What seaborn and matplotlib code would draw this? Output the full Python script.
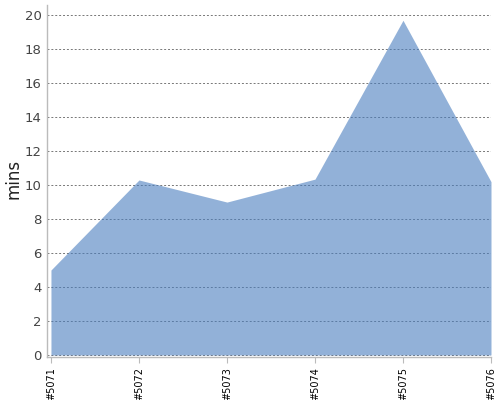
import matplotlib
matplotlib.use("Agg")
import matplotlib.pyplot as plt
import pandas as pd
import seaborn as sns

# build ids and durations
builds = ["#5071", "#5072", "#5073", "#5074", "#5075", "#5076"]
mins = [5.0, 10.3, 9.0, 10.35, 19.7, 10.2]
y_ticks = [0, 2, 4, 6, 8, 10, 12, 14, 16, 18, 20]

df = pd.DataFrame({"build": builds, "mins": mins})
df["pos"] = range(len(df))

sns.set_style("white")
plt.rcParams["font.family"] = ["DejaVu Sans"]

fig = plt.figure(figsize=(5, 4), dpi=100)
ax = fig.add_axes([0.094, 0.1075, 0.888, 0.88])

# dashed horizontal grid behind the area
for t in y_ticks:
    ax.axhline(t, color="#777777", linestyle=(0, (2, 2)), linewidth=0.7, zorder=0)

sns.lineplot(data=df, x="pos", y="mins", ax=ax, linewidth=0, color="#4A7EBF")
ax.fill_between(df["pos"], 0, df["mins"], color="#4A7EBF", alpha=0.6,
                linewidth=0, zorder=2)

ax.set_xlim(-0.045, len(builds) - 1)
ax.set_ylim(-0.12, 20.6)
ax.set_xticks(df["pos"])
ax.set_xticklabels(builds, rotation=90, fontsize=7, color="black")
ax.set_yticks(y_ticks)
ax.set_yticklabels([str(t) for t in y_ticks], fontsize=9.5, color="#444444")
ax.set_xlabel("")
ax.set_ylabel("mins", fontsize=12, color="#222222")
ax.yaxis.set_label_coords(-0.055, 0.505)

for side in ["top", "right"]:
    ax.spines[side].set_visible(False)
for side in ["left", "bottom"]:
    ax.spines[side].set_color("#bbbbbb")
    ax.spines[side].set_linewidth(1)
ax.tick_params(axis="x", length=4, color="#bbbbbb", pad=3, direction="out", bottom=True)
ax.tick_params(axis="y", length=0, pad=4)

fig.savefig("out.png", dpi=100)
